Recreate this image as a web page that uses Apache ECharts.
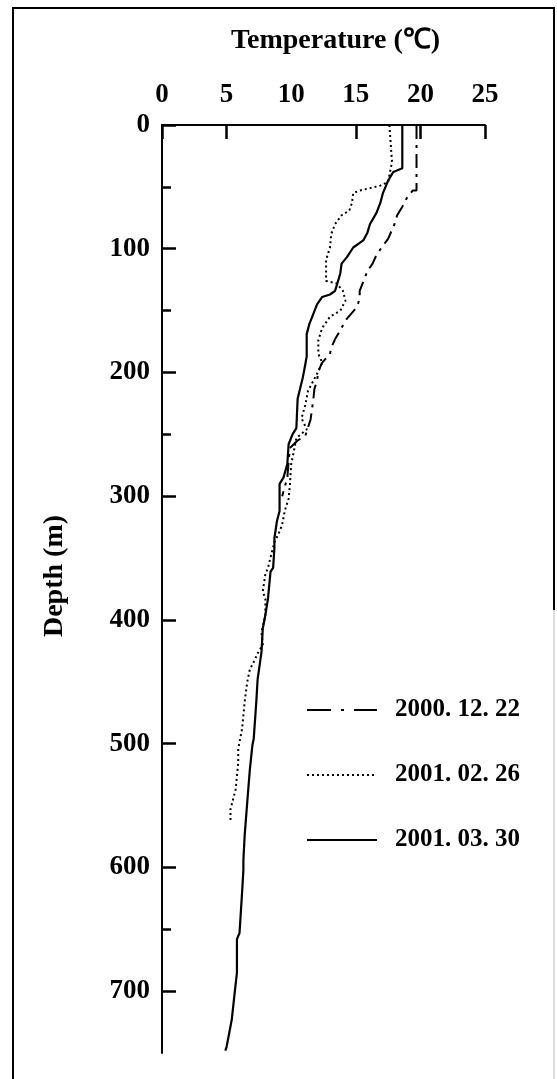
<!DOCTYPE html>
<html>
<head>
<meta charset="utf-8">
<script src="https://cdn.jsdelivr.net/npm/echarts@6/dist/echarts.min.js"></script>
<style>
  html, body { margin: 0; padding: 0; background: #fff; }
  #main { width: 557px; height: 1079px; }
</style>
</head>
<body>
<div id="main"></div>
<script>
// 刻度
var tempTicks = [0, 5, 15, 20, 25];
var tempLabels = [0, 5, 10, 15, 20, 25];
var depthTicks = [0, 100, 200, 300, 400, 500, 600, 700];
var depthMinorTicks = [50, 150, 250, 650];

// 2000.12.22
var depth1222 = [0, 53, 53, 58, 66, 73, 80, 92, 99, 105, 112, 118, 126, 134, 140, 147, 153, 158, 166, 173, 180, 185, 192, 199, 207, 213, 223, 238, 251, 255, 258, 261, 272, 285, 300];
var temp1222 = [19.7, 19.7, 19.4, 19.0, 18.6, 18.2, 18.0, 17.5, 17.0, 16.6, 16.3, 15.9, 15.6, 15.3, 15.3, 15.1, 14.6, 14.2, 13.8, 13.4, 13.1, 13.0, 12.4, 12.1, 12.0, 11.8, 11.7, 11.5, 11.1, 10.5, 10.2, 9.9, 9.8, 9.7, 9.3];

// 2001.02.26
var depth0226 = [0, 30, 46, 49, 51, 53, 55, 63, 69, 73, 80, 88, 99, 109, 126, 128, 134, 142, 150, 155, 164, 174, 185, 192, 199, 207, 215, 226, 237, 246, 253, 264, 274, 291, 302, 312, 323, 331, 337, 358, 363, 377, 383, 396, 410, 420, 428, 432, 440, 450, 466, 488, 504, 515, 526, 537, 553, 562];
var temp0226 = [17.6, 17.8, 17.5, 16.9, 16.1, 15.3, 14.8, 14.7, 14.5, 13.9, 13.4, 13.1, 13.0, 12.7, 12.7, 13.5, 14.0, 14.2, 13.8, 13.0, 12.4, 12.1, 12.1, 12.4, 12.1, 11.7, 11.3, 11.1, 10.8, 11.2, 10.4, 10.2, 10.0, 9.9, 9.8, 9.5, 9.3, 9.0, 8.7, 8.2, 8.0, 7.8, 8.0, 8.0, 7.7, 7.8, 7.35, 7.2, 6.8, 6.6, 6.4, 6.2, 5.9, 5.9, 5.8, 5.7, 5.3, 5.3];

// 2001.03.30
var depth0330 = [0, 35, 38, 45, 55, 63, 71, 80, 87, 93, 96, 99, 107, 112, 120, 127, 134, 137, 139, 145, 153, 161, 169, 187, 193, 204, 221, 245, 250, 258, 274, 285, 290, 312, 320, 334, 342, 358, 361, 383, 396, 407, 426, 448, 466, 496, 501, 521, 547, 574, 594, 602, 620, 653, 658, 685, 699, 723, 734, 745, 748];
var temp0330 = [18.6, 18.6, 17.9, 17.5, 17.1, 16.9, 16.6, 16.1, 15.9, 15.6, 15.2, 14.8, 14.3, 13.9, 13.8, 13.6, 13.4, 13.0, 12.4, 12.0, 11.7, 11.4, 11.2, 11.2, 11.1, 10.9, 10.5, 10.4, 10.1, 9.8, 9.7, 9.4, 9.1, 9.1, 8.9, 8.7, 8.7, 8.6, 8.4, 8.2, 8.0, 7.8, 7.7, 7.4, 7.3, 7.1, 7.0, 6.8, 6.6, 6.4, 6.3, 6.3, 6.2, 6.0, 5.8, 5.8, 5.65, 5.4, 5.2, 5.0, 4.9];

function pairs(t, d) {
    return t.map(function (v, i) { return [v, d[i]]; });
}

var FONT = '"Liberation Serif", "Times New Roman", serif';

var myChart = echarts.init(document.getElementById('main'));

var option = {
    animation: false,
    backgroundColor: '#fff',
    grid: { left: 162, top: 125, right: 72, bottom: 26 },
    legend: {
        orient: 'vertical',
        left: 301,
        top: 692,
        itemWidth: 70,
        itemHeight: 14,
        itemGap: 39,
        itemStyle: { opacity: 0 },
        textStyle: { fontFamily: FONT, fontWeight: 'bold', fontSize: 25, color: '#000', lineHeight: 26, padding: [0, 0, 0, 13] },
        data: [
            { name: '2000. 12. 22', lineStyle: { type: [24, 10, 3, 10] } },
            { name: '2001. 02. 26' },
            { name: '2001. 03. 30' }
        ]
    },
    xAxis: {
        type: 'value',
        position: 'top',
        min: 0,
        max: 25,
        interval: 5,
        name: 'Temperature (℃)',
        nameLocation: 'middle',
        nameGap: 70,
        nameTextStyle: { fontFamily: FONT, fontWeight: 'bold', fontSize: 28, color: '#000', padding: [0, 0, 0, 24] },
        axisLine: { show: true, lineStyle: { color: '#000', width: 2 } },
        axisTick: { show: true, inside: true, length: 14, lineStyle: { color: '#000', width: 2.5 }, customValues: tempTicks },
        axisLabel: { margin: 16, fontFamily: FONT, fontWeight: 'bold', fontSize: 27, color: '#000', customValues: tempLabels },
        splitLine: { show: false }
    },
    yAxis: [{
        type: 'value',
        inverse: true,
        min: 0,
        max: 750,
        axisLine: { show: true, lineStyle: { color: '#000', width: 2 } },
        axisTick: { show: true, inside: true, length: 14, lineStyle: { color: '#000', width: 2.5 }, customValues: depthTicks },
        axisLabel: { margin: 12, fontFamily: FONT, fontWeight: 'bold', fontSize: 27, color: '#000', customValues: depthTicks },
        splitLine: { show: false }
    }, {
        type: 'value',
        inverse: true,
        position: 'left',
        min: 0,
        max: 750,
        axisLine: { show: false },
        axisTick: { show: true, inside: true, length: 9, lineStyle: { color: '#000', width: 2.5 }, customValues: depthMinorTicks },
        axisLabel: { show: false },
        splitLine: { show: false }
    }],
    series: [{
        name: '2000. 12. 22',
        type: 'line',
        symbol: 'none',
        itemStyle: { color: '#000' },
        lineStyle: { color: '#000', width: 2, type: [14, 6, 3, 6] },
        data: pairs(temp1222, depth1222)
    }, {
        name: '2001. 02. 26',
        type: 'line',
        symbol: 'none',
        itemStyle: { color: '#000' },
        lineStyle: { color: '#000', width: 2, type: [2, 3] },
        data: pairs(temp0226, depth0226)
    }, {
        name: '2001. 03. 30',
        type: 'line',
        symbol: 'none',
        itemStyle: { color: '#000' },
        lineStyle: { color: '#000', width: 2.2 },
        data: pairs(temp0330, depth0330)
    }],
    graphic: [{
        type: 'polyline',
        shape: { points: [[13, 1079], [13, 8], [554, 8], [554, 610]] },
        style: { stroke: '#000', lineWidth: 2, fill: null }
    }, {
        type: 'line',
        shape: { x1: 554, y1: 610, x2: 554, y2: 1079 },
        style: { stroke: '#bbb', lineWidth: 1 }
    }, {
        type: 'text',
        x: 55,
        y: 576,
        rotation: Math.PI / 2,
        style: {
            text: 'Depth (m)',
            fontFamily: FONT,
            fontWeight: 'bold',
            fontSize: 28,
            fill: '#000',
            align: 'center',
            verticalAlign: 'middle'
        }
    }]
};

myChart.setOption(option);
</script>
</body>
</html>
